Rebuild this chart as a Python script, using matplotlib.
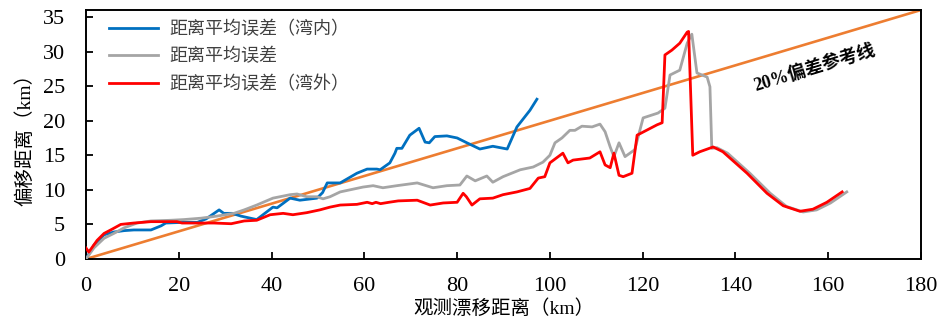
import matplotlib
matplotlib.use("Agg")
import matplotlib.pyplot as plt

plt.rcParams['font.family'] = ['Liberation Serif', 'Noto Sans CJK SC']
plt.rcParams['axes.unicode_minus'] = False

# Mean distance error inside the bay
bay_in_x = [0, 1.7, 3.9, 6.0, 8.2, 10.3, 14.0, 16.2, 17.2, 21.1, 24.0, 25.9, 28.7, 29.7,
            31.5, 33.4, 36.8, 40.3, 41.2, 44.0, 46.1, 49.8, 51.0, 52.0, 54.8, 58.4, 60.6,
            62.7, 63.4, 65.5, 66.6, 67.0, 68.1, 69.8, 71.8, 73.1, 74.0, 75.2, 77.8, 80.0,
            82.1, 84.9, 87.7, 90.8, 92.9, 95.7, 97.2]
bay_in_y = [0, 2.0, 3.5, 3.9, 4.1, 4.2, 4.2, 4.8, 5.2, 5.3, 5.3, 5.8, 7.1, 6.6,
            6.6, 6.2, 5.7, 7.5, 7.4, 8.8, 8.5, 8.8, 9.6, 11.0, 11.0, 12.4, 13.0,
            13.0, 12.9, 13.9, 15.3, 16.0, 16.0, 17.9, 18.9, 16.9, 16.8, 17.7, 17.8, 17.5,
            16.8, 15.9, 16.3, 15.9, 19.1, 21.5, 23.1]

# Overall mean distance error
all_x = [0, 1.7, 3.9, 6.0, 8.2, 11.0, 14.0, 18.3, 21.1, 24.8, 28.2, 31.9, 34.1, 36.8,
         40.3, 41.8, 44.0, 45.5, 47.6, 49.8, 51.1, 52.6, 54.8, 56.9, 59.7, 61.9, 64.0,
         67.0, 71.4, 74.8, 77.8, 80.6, 82.1, 83.9, 86.4, 87.7, 89.9, 93.6, 96.4, 98.5,
         100.0, 101.1, 102.6, 104.3, 105.4, 106.9, 109.1, 110.8, 111.9, 113.0, 113.8,
         114.9, 116.2, 118.3, 120.1, 123.3, 124.8, 125.9, 128.0, 129.6, 130.6, 131.7,
         133.9, 134.5, 134.9, 136.0, 138.3, 143.1, 147.5, 151.0, 154.6, 157.5, 160.5, 164.0]
all_y = [0, 1.6, 3.0, 3.7, 4.5, 5.2, 5.5, 5.6, 5.7, 5.9, 6.2, 6.6, 7.1, 7.8,
         8.8, 9.0, 9.3, 9.4, 9.0, 9.0, 8.7, 9.0, 9.7, 10.0, 10.4, 10.6, 10.3,
         10.6, 11.0, 10.3, 10.6, 10.7, 12.0, 11.3, 12.0, 11.1, 11.9, 12.9, 13.3, 14.0,
         15.0, 16.8, 17.5, 18.6, 18.6, 19.2, 19.1, 19.5, 18.4, 16.2, 14.8,
         16.8, 14.8, 15.8, 20.4, 21.1, 21.8, 26.6, 27.3, 31.2, 32.5, 26.9,
         26.3, 24.9, 16.0, 16.1, 15.3, 12.4, 9.5, 7.6, 6.8, 7.1, 8.1, 9.7]

# Mean distance error outside the bay
bay_out_x = [0, 0.6, 2.4, 3.9, 5.6, 7.5, 10.3, 14.0, 19.6, 20.7, 24.0, 27.6, 31.3, 34.1,
             36.8, 39.7, 42.5, 44.6, 47.6, 50.4, 52.6, 54.8, 58.4, 60.6, 61.7, 62.5, 63.5,
             65.3, 67.3, 71.4, 74.2, 77.0, 80.0, 81.3, 82.0, 83.2, 84.9, 87.7, 89.9, 92.9,
             95.7, 97.5, 98.9, 100.0, 102.8, 103.9, 105.0, 108.6, 110.8, 111.9, 113.0,
             113.8, 114.9, 115.8, 117.7, 118.8, 123.1, 124.2, 124.8, 126.3, 128.0, 129.6,
             129.9, 130.8, 132.3, 135.2, 137.3, 142.5, 146.8, 150.3, 153.9, 156.7, 159.7, 163.0]
bay_out_y = [1.6, 1.0, 2.7, 3.7, 4.3, 5.0, 5.2, 5.4, 5.4, 5.2, 5.2, 5.2, 5.1, 5.5,
             5.6, 6.4, 6.6, 6.4, 6.7, 7.1, 7.5, 7.8, 7.9, 8.2, 8.0, 8.2, 8.0,
             8.2, 8.4, 8.5, 7.8, 8.1, 8.2, 9.5, 9.0, 7.8, 8.7, 8.8, 9.3, 9.7,
             10.2, 11.7, 11.9, 13.9, 15.3, 13.9, 14.3, 14.6, 15.5, 13.6, 13.2,
             15.3, 12.1, 11.9, 12.4, 17.9, 19.4, 19.7, 29.5, 30.2, 31.2, 32.8,
             32.9, 15.0, 15.5, 16.2, 15.5, 12.4, 9.5, 7.7, 6.9, 7.2, 8.2, 9.7]

# 20% deviation reference line
ref_x = [0, 180]
ref_y = [0, 36]

x_ticks = [0, 20, 40, 60, 80, 100, 120, 140, 160, 180]
y_ticks = [0, 5, 10, 15, 20, 25, 30, 35]

fig = plt.figure(figsize=(9.39, 3.22), dpi=100)
ax = fig.add_axes([86 / 939, 1 - 259 / 322, (921 - 86) / 939, (259 - 10) / 322])

ax.plot(ref_x, ref_y, color='#ED7D31', lw=1.9, zorder=2)
ax.plot(bay_in_x, bay_in_y, color='#0070C0', lw=2.0, label='距离平均误差（湾内）', zorder=3)
ax.plot(all_x, all_y, color='#A5A5A5', lw=2.0, label='距离平均误差', zorder=3)
ax.plot(bay_out_x, bay_out_y, color='#FF0000', lw=2.0, label='距离平均误差（湾外）', zorder=4)

ax.set_xlim(0, 180)
ax.set_ylim(0, 36)
ax.set_xticks(x_ticks)
ax.set_yticks(y_ticks)
ax.tick_params(direction='in', length=5, width=1.3, labelsize=16)
ax.tick_params(axis='x', pad=13)
ax.tick_params(axis='y', pad=15)
for s in ax.spines.values():
    s.set_linewidth(1.4)

ax.set_xlabel('观测漂移距离（km）', fontsize=14, labelpad=2)
ax.set_ylabel('偏移距离（km）', fontsize=14, labelpad=6)

ax.text(157, 27.6, '20%偏差参考线', fontsize=13, fontweight='bold', rotation=17,
        ha='center', va='center')

leg = ax.legend(loc='upper left', frameon=False, fontsize=13, handlelength=2.7,
                handletextpad=0.6, labelspacing=0.55, borderaxespad=0.2,
                bbox_to_anchor=(0.015, 1.0))
for t in leg.get_texts():
    t.set_color('#404040')

fig.savefig('out.png', dpi=100)
